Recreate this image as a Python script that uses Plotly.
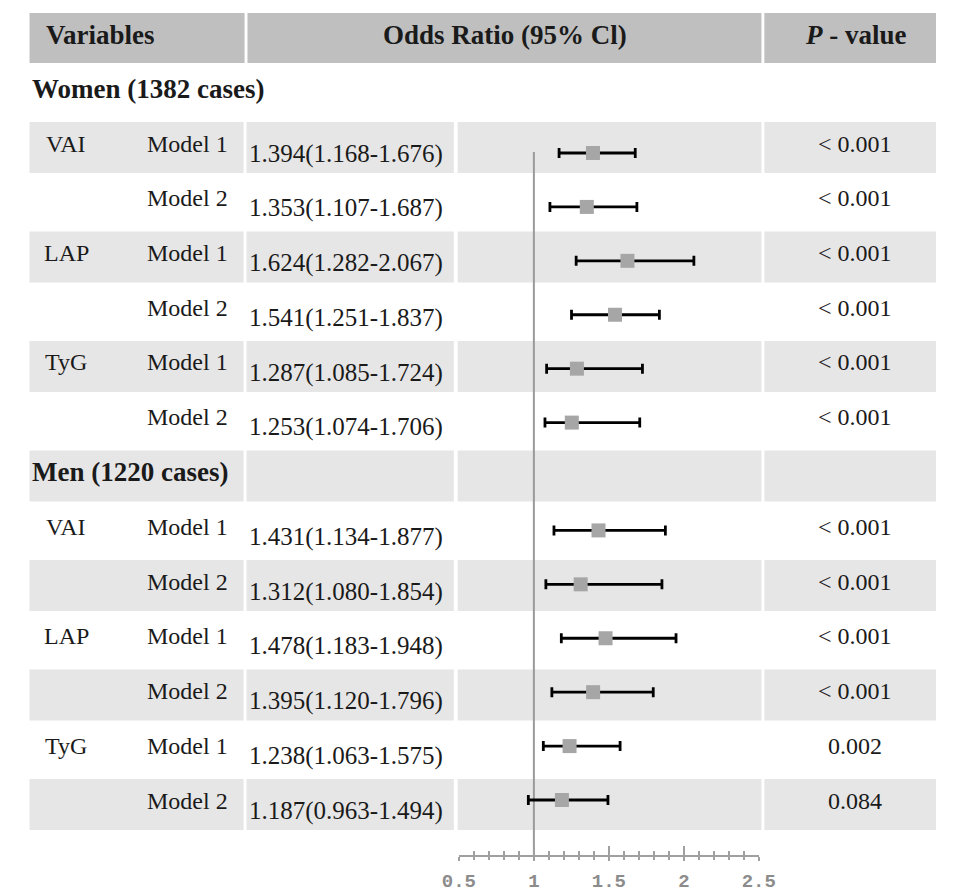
import plotly.graph_objects as go

W, H = 953, 893

# ---------------- data ----------------
header_labels = ["Variables", "Odds Ratio (95% Cl)", "<i>P</i> - value"]
section_titles = ["Women (1382 cases)", "Men (1220 cases)"]
variables = ["VAI", "", "LAP", "", "TyG", ""]
models = ["Model 1", "Model 2", "Model 1", "Model 2", "Model 1", "Model 2"]

women_or = [1.394, 1.353, 1.624, 1.541, 1.287, 1.253]
women_lo = [1.168, 1.107, 1.282, 1.251, 1.085, 1.074]
women_hi = [1.676, 1.687, 2.067, 1.837, 1.724, 1.706]
women_p = ["< 0.001", "< 0.001", "< 0.001", "< 0.001", "< 0.001", "< 0.001"]

men_or = [1.431, 1.312, 1.478, 1.395, 1.238, 1.187]
men_lo = [1.134, 1.080, 1.183, 1.120, 1.063, 0.963]
men_hi = [1.877, 1.854, 1.948, 1.796, 1.575, 1.494]
men_p = ["< 0.001", "< 0.001", "< 0.001", "< 0.001", "0.002", "0.084"]

x_ticks = [0.5, 1, 1.5, 2, 2.5]
x_tick_text = ["0.5", "1", "1.5", "2", "2.5"]

# ---------------- layout helpers (pixel geometry) ----------------
ROW0, ROWH = 147.5, 54.75          # table row centre / pitch (px)
MK0, MKH = 153.0, 53.917           # marker row centre / pitch (px)
AXIS_PX = 856.0
X1_PX, PX_PER_UNIT = 536.0, 155.5

def py(p):
    return 1 - p / H

def pxx(p):
    return p / W

def row_c(j):
    return ROW0 + ROWH * j

SERIF = "Liberation Serif, Times New Roman, serif"
TXT = "#1a1a1a"
BAND = "#e6e6e6"
HEAD = "#bfbfbf"

shapes = []
annotations = []

def band(j, cells, color, half):
    c = row_c(j)
    for x0, x1 in cells:
        shapes.append(dict(type="rect", xref="paper", yref="paper",
                           x0=pxx(x0), x1=pxx(x1), y0=py(c + half), y1=py(c - half),
                           fillcolor=color, line=dict(width=0), layer="below"))

def text(s, x, yp, anchor="left", size=24, bold=False):
    annotations.append(dict(text=("<b>%s</b>" % s) if bold else s,
                            xref="paper", yref="paper", x=pxx(x), y=py(yp),
                            xanchor=anchor, yanchor="middle", showarrow=False,
                            font=dict(family=SERIF, size=size, color=TXT)))

# header
band(-2, [(13, 236), (239, 772), (775, 953)], HEAD, 25)
text(header_labels[0], 28, row_c(-2) - 3, "left", 27, True)
text(header_labels[1], 506, row_c(-2) - 3, "center", 27, True)
text(header_labels[2], 870, row_c(-2) - 3, "center", 27, True)

row_cells = [(13, 235), (238, 453), (457, 772), (775, 953)]

# rows
marker_x, marker_y, err_plus, err_minus = [], [], [], []
for s, (title, ors, los, his, ps) in enumerate([
        (section_titles[0], women_or, women_lo, women_hi, women_p),
        (section_titles[1], men_or, men_lo, men_hi, men_p)]):
    jt = -1 + 7 * s
    if jt >= 0 and jt % 2 == 0:
        band(jt, row_cells, BAND, 25.5)
    text(title, 13, row_c(jt) - 4, "left", 27, True)
    for i in range(6):
        j = jt + 1 + i
        if j % 2 == 0:
            band(j, row_cells, BAND, 25.5)
        if variables[i]:
            text(variables[i], 51, row_c(j) - 4, "center")
        text(models[i], 133, row_c(j) - 4, "left")
        text("%.3f(%.3f-%.3f)" % (ors[i], los[i], his[i]), 239, row_c(j) + 6, "left", 25)
        text(ps[i], 869, row_c(j) - 4, "center")
        marker_x.append(ors[i])
        marker_y.append(j)
        err_plus.append(his[i] - ors[i])
        err_minus.append(ors[i] - los[i])

# reference line at OR = 1
shapes.append(dict(type="line", xref="x", yref="paper", x0=1, x1=1,
                   y0=py(AXIS_PX), y1=py(152), line=dict(color="#9a9a9a", width=2),
                   layer="below"))

fig = go.Figure()
fig.add_trace(go.Scatter(
    x=marker_x, y=marker_y, mode="markers",
    marker=dict(symbol="square", size=14, color="#a6a6a6", line=dict(width=0)),
    error_x=dict(type="data", symmetric=False, array=err_plus, arrayminus=err_minus,
                 color="black", thickness=2.8, width=5),
    hoverinfo="skip", showlegend=False, cliponaxis=False))
# helper trace so the second (tick) axis is drawn
fig.add_trace(go.Scatter(x=[1], y=[0], xaxis="x2", yaxis="y", mode="markers",
                         marker=dict(opacity=0), hoverinfo="skip", showlegend=False))

x_lo_px = X1_PX + (x_ticks[0] - 1) * PX_PER_UNIT
x_hi_px = X1_PX + (x_ticks[-1] - 1) * PX_PER_UNIT
ytop = -MK0 / MKH
ybot = ytop + H / MKH
AXC = "#a0a0a0"

fig.update_layout(
    width=W, height=H, margin=dict(l=0, r=0, t=0, b=0),
    paper_bgcolor="white", plot_bgcolor="rgba(0,0,0,0)",
    showlegend=False, hovermode=False,
    shapes=shapes, annotations=annotations,
    xaxis=dict(domain=[pxx(x_lo_px), pxx(x_hi_px)], range=[x_ticks[0], x_ticks[-1]],
               anchor="free", position=py(AXIS_PX),
               showline=True, linecolor=AXC, linewidth=2,
               showgrid=False, zeroline=False,
               tickmode="array", tickvals=x_ticks, ticktext=x_tick_text,
               ticks="inside", ticklen=9, tickwidth=2, tickcolor=AXC,
               minor=dict(ticks="inside", ticklen=4, tickwidth=1.5, tickcolor=AXC,
                          dtick=0.1, tick0=0.5, showgrid=False),
               tickfont=dict(family="Liberation Mono, Courier New, monospace",
                             size=19, color="#8c8c8c", weight="bold"),
               ticklabelstandoff=7),
    xaxis2=dict(overlaying="x", matches="x", anchor="free", position=py(AXIS_PX),
                domain=[pxx(x_lo_px), pxx(x_hi_px)],
                showline=False, showgrid=False, zeroline=False,
                tickmode="array", tickvals=x_ticks, showticklabels=False,
                ticks="outside", ticklen=4, tickwidth=2, tickcolor=AXC,
                minor=dict(ticks="outside", ticklen=3, tickwidth=1.5, tickcolor=AXC,
                           dtick=0.1, tick0=0.5, showgrid=False)),
    yaxis=dict(domain=[0, 1], range=[ybot, ytop], visible=False, fixedrange=True),
)

fig.write_html("out.html", config={"displayModeBar": False},
               post_script="document.body.style.margin='0';document.body.style.overflow='hidden';")
